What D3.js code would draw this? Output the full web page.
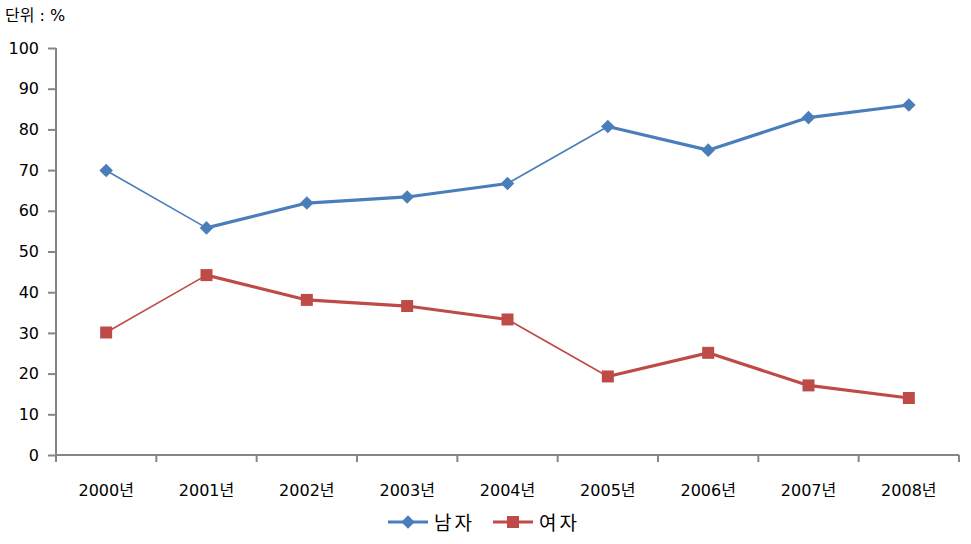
<!DOCTYPE html>
<html><head><meta charset="utf-8">
<script src="https://cdn.jsdelivr.net/npm/d3@7"></script>
<style>body{margin:0;background:#fff}svg{display:block}text{font-family:"DejaVu Sans","Noto Sans CJK KR",sans-serif}</style>
</head><body>
<svg id="c" width="971" height="544"></svg>
<script>
const categories = ["2000년","2001년","2002년","2003년","2004년","2005년","2006년","2007년","2008년"];
const male = [69.9, 55.8, 61.9, 63.4, 66.7, 80.7, 74.9, 82.9, 86.0];
const female = [30.1, 44.2, 38.1, 36.6, 33.3, 19.3, 25.1, 17.1, 14.0];
const seriesNames = ["남자","여자"];
const yTicks = [0,10,20,30,40,50,60,70,80,90,100];
const unitLabel = "단위 : %";
const thinSegments = [0, 4]; // segments starting at these indexes drawn thin

const svg = d3.select("#c");
const x = d3.scaleBand().domain(categories).range([56, 959]);
const y = d3.scaleLinear().domain([0, 100]).range([455, 48]);
const axisColor = "#868686";

// y axis
const ya = svg.append("g").attr("transform","translate(56,0)")
  .call(d3.axisLeft(y).tickValues(yTicks).tickSize(8).tickPadding(9));
ya.select(".domain").attr("stroke", axisColor).attr("stroke-width",2).attr("d","M0,"+y(100)+"V"+y(0));
ya.selectAll(".tick line").attr("stroke", axisColor).attr("stroke-width",2);
ya.selectAll(".tick text").attr("font-size",16).attr("fill","#000");

// x axis
const xa = svg.append("g").attr("transform","translate(0,455)")
  .call(d3.axisBottom(x).tickSize(0).tickPadding(30));
xa.select(".domain").attr("stroke", axisColor).attr("stroke-width",2).attr("d","M56,0H959");
xa.selectAll(".tick text").attr("font-size",16).attr("fill","#000");
const bounds = categories.map(c => x(c)).concat([959]);
xa.selectAll(".bt").data(bounds).enter().append("line")
  .attr("x1", d=>d).attr("x2", d=>d).attr("y1",0).attr("y2",7)
  .attr("stroke", axisColor).attr("stroke-width",2);

svg.append("text").attr("x",5).attr("y",21).attr("font-size",16).text(unitLabel);

const cx = c => x(c) + x.bandwidth()/2;
const diamondPath = d3.symbol().type(d3.symbolSquare).size(92)();
const squarePath = d3.symbol().type(d3.symbolSquare).size(144)();
function marker(sel, shape) {
  return sel.attr("d", shape === "diamond" ? diamondPath : squarePath);
}
function drawSeries(vals, color, shape) {
  const g = svg.append("g");
  for (let i = 0; i < vals.length - 1; i++) {
    g.append("line")
      .attr("x1", cx(categories[i])).attr("y1", y(vals[i]))
      .attr("x2", cx(categories[i+1])).attr("y2", y(vals[i+1]))
      .attr("stroke", color)
      .attr("stroke-width", thinSegments.includes(i) ? 1.6 : 3.2)
      .attr("stroke-linecap","round");
  }
  g.selectAll("path.m").data(vals).enter().append("path")
    .attr("transform", (d,i) => `translate(${cx(categories[i])},${y(d)})` + (shape==="diamond" ? " rotate(45)" : ""))
    .call(marker, shape)
    .attr("fill", color);
}
drawSeries(male, "#4a7ebb", "diamond");
drawSeries(female, "#be4b48", "square");

// legend
const leg = [{name: seriesNames[0], color:"#4a7ebb", shape:"diamond", x:388},
             {name: seriesNames[1], color:"#be4b48", shape:"square", x:493}];
leg.forEach(l => {
  const g = svg.append("g");
  g.append("line").attr("x1", l.x).attr("x2", l.x+40).attr("y1",522).attr("y2",522)
    .attr("stroke", l.color).attr("stroke-width",3);
  g.append("path").attr("transform",`translate(${l.x+20},522)` + (l.shape==="diamond" ? " rotate(45)" : ""))
    .call(marker, l.shape)
    .attr("fill", l.color);
  g.append("text").attr("x", l.x+46).attr("y",530).attr("font-size",19).attr("letter-spacing",3).text(l.name);
});
</script>
</body></html>
